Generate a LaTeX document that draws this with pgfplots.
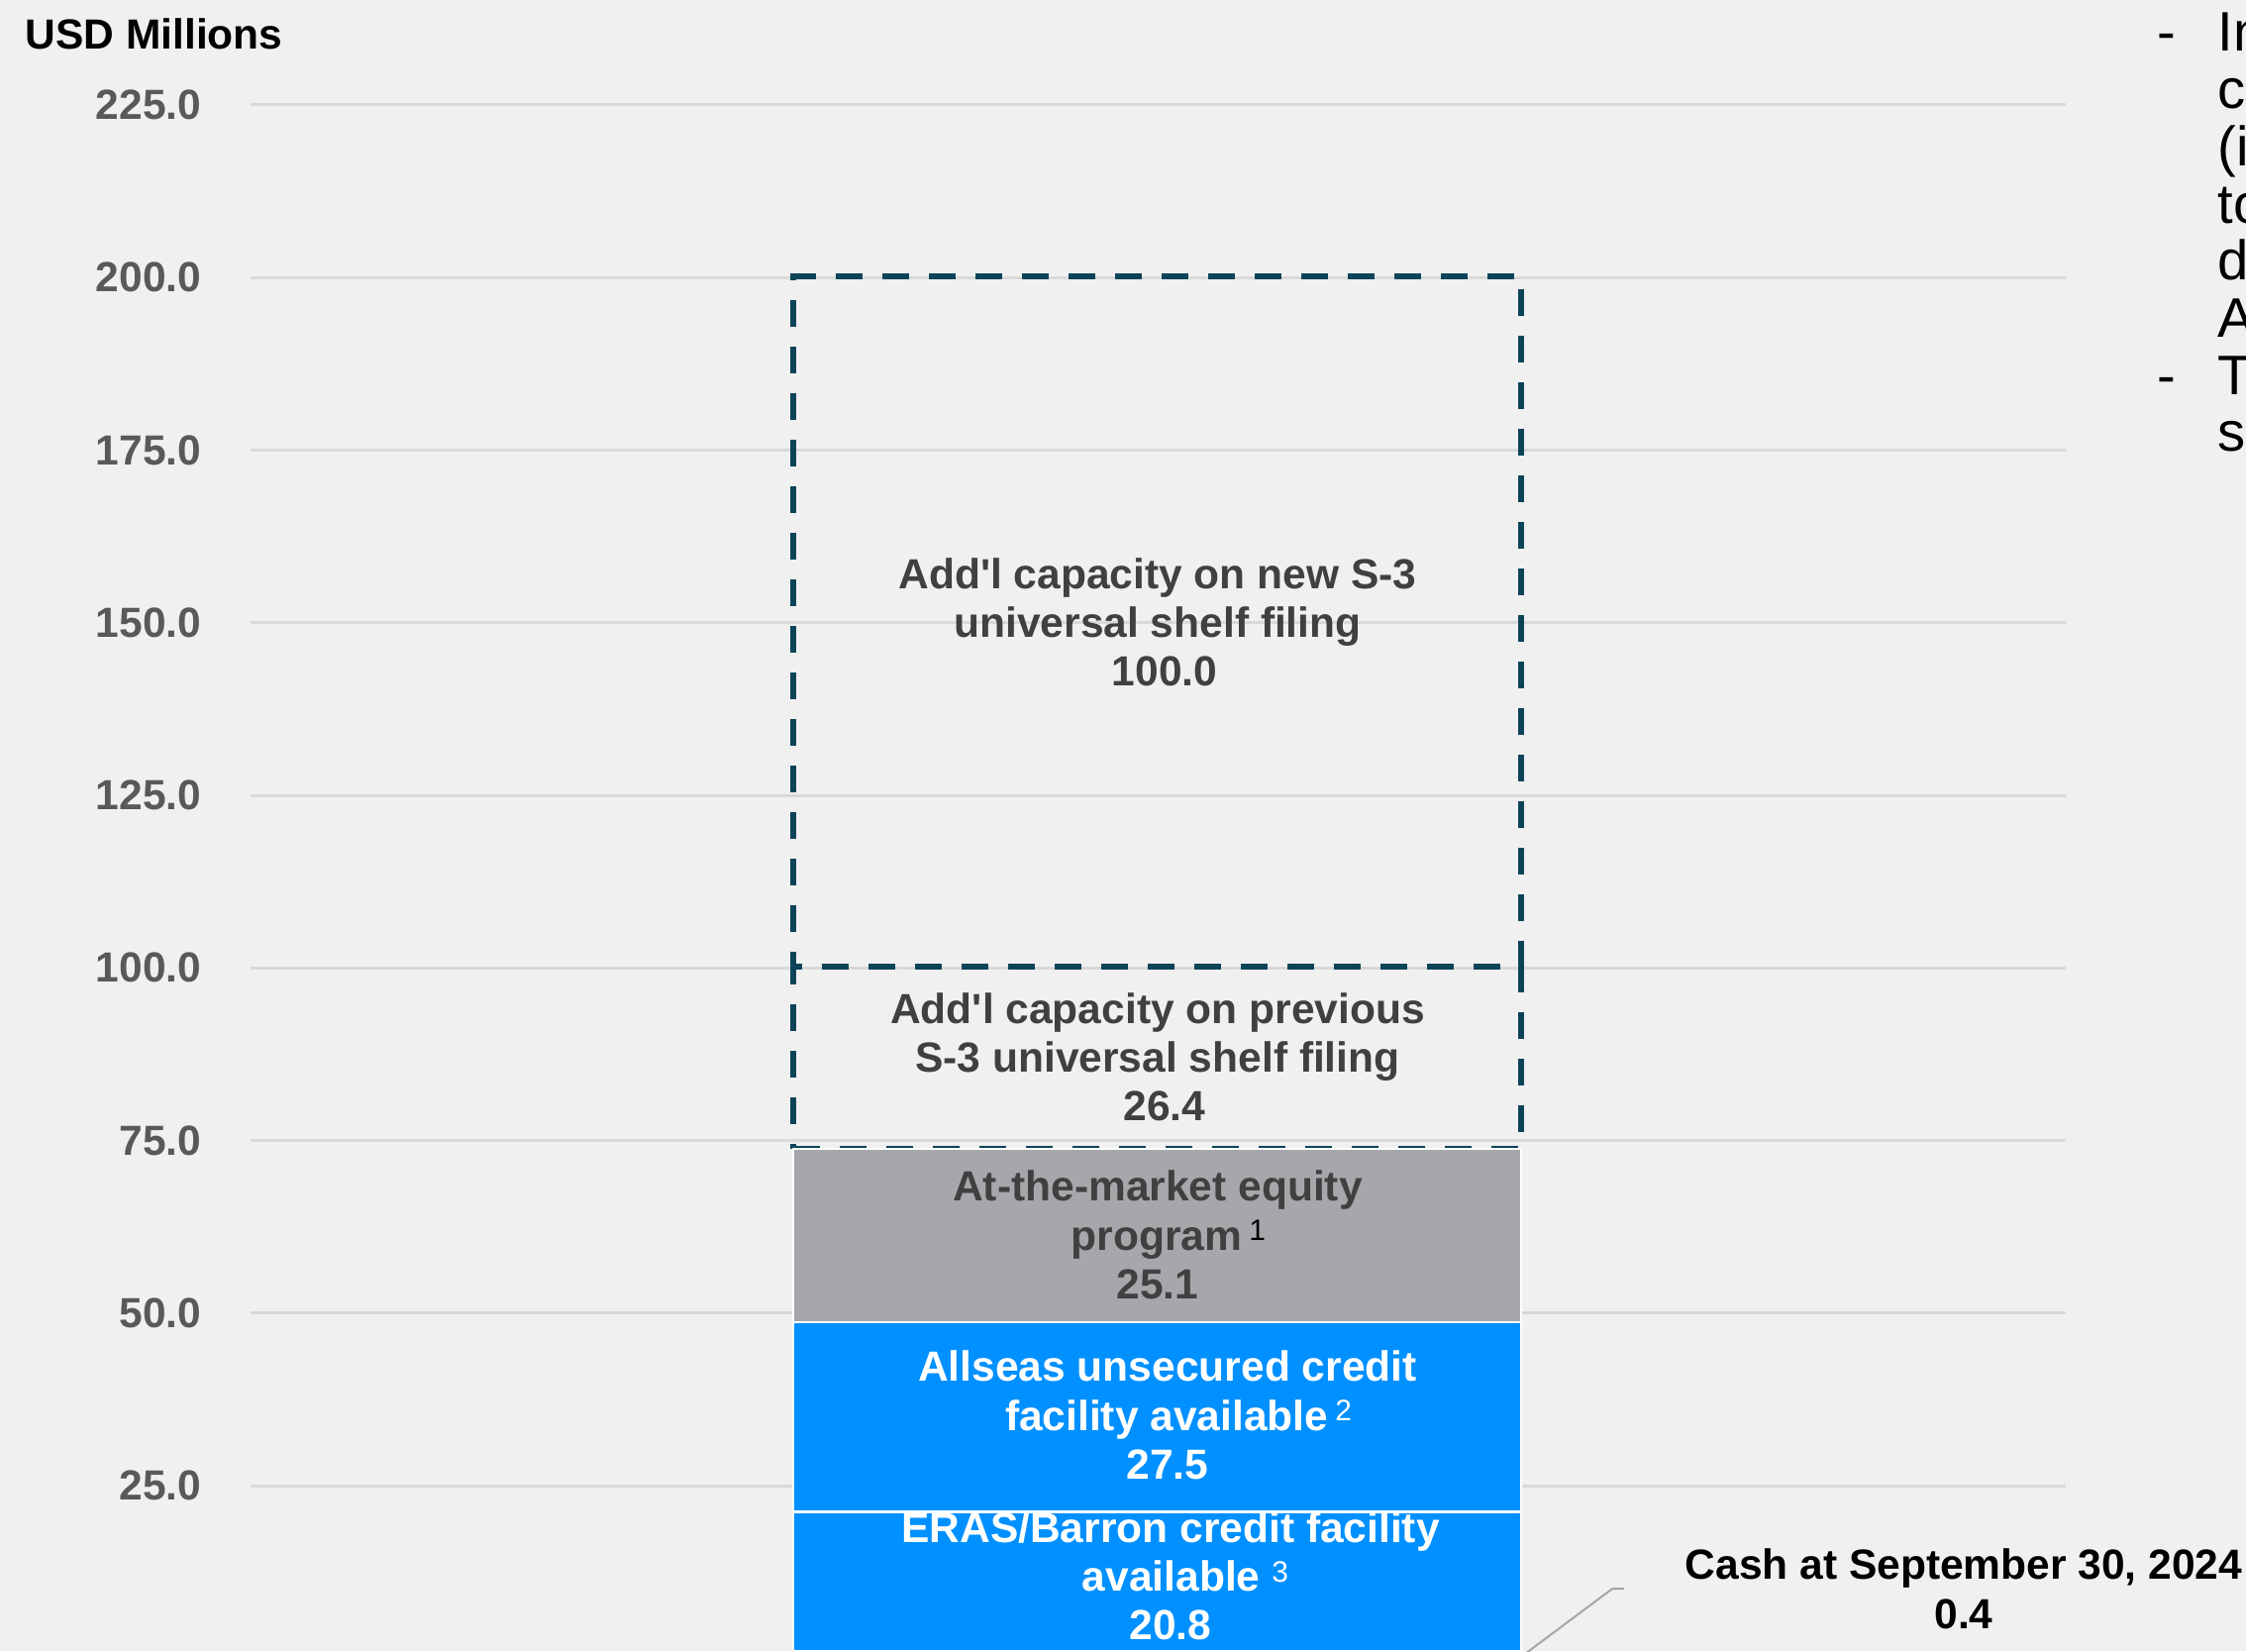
\documentclass[border=0pt]{standalone}
\usepackage{fontspec}
\setmainfont{Liberation Sans}
\usepackage{pgfplots}
\pgfplotsset{compat=1.18}
\definecolor{bg}{HTML}{F0F0F0}
\definecolor{gridc}{HTML}{D9D9D9}
\definecolor{barblue}{HTML}{0090FF}
\definecolor{bargrey}{HTML}{A6A7AB}
\definecolor{dteal}{HTML}{0B4459}
\definecolor{lbl}{HTML}{404040}
\definecolor{tickc}{HTML}{595959}
\definecolor{leader}{HTML}{A6A6A6}
\newcommand{\lblfont}{\fontsize{12.1pt}{14pt}\selectfont\bfseries}
\newcommand{\fnsup}[1]{\raisebox{2.7pt}{\fontsize{8.5pt}{9pt}\selectfont\mdseries #1}}
\begin{document}
\begin{tikzpicture}
\path[use as bounding box, fill=bg] (0,0) rectangle (226.8mm,166.7mm);
\clip (0,0) rectangle (226.8mm,166.7mm);
\begin{axis}[
  at={(25.3mm,0mm)}, anchor=south west,
  scale only axis, width=183.3mm, height=156.1mm,
  xmin=0, xmax=1833, ymin=1.04, ymax=225,
  clip=false,
  ybar stacked, bar width=73.5mm,
  axis line style={draw=none},
  xtick=\empty,
  ytick={25,50,75,100,125,150,175,200,225},
  tick style={draw=none},
  ymajorgrids, grid style={gridc, line width=0.3mm},
  yticklabel={\pgfmathprintnumber[fixed,fixed zerofill,precision=1,assume math mode=true]{\tick}},
  yticklabel style={font=\lblfont, text=tickc, inner sep=0pt, anchor=east, xshift=-4.9mm},
]
\addplot[fill=dteal, draw=white, line width=0.25mm] coordinates {(915.5,0.4)};
\addplot[fill=barblue, draw=white, line width=0.25mm] coordinates {(915.5,20.8)};
\addplot[fill=barblue, draw=white, line width=0.25mm] coordinates {(915.5,27.5)};
\addplot[fill=bargrey, draw=white, line width=0.25mm] coordinates {(915.5,25.1)};
\addplot[fill=none, draw=dteal, line width=0.65mm, dash pattern=on 2.7mm off 2mm] coordinates {(915.5,26.4)};
\addplot[fill=none, draw=dteal, line width=0.65mm, dash pattern=on 2.7mm off 2mm, dash phase=1.8mm] coordinates {(915.5,100)};

\coordinate (L100) at (axis cs:916,150.1);
\coordinate (L264) at (axis cs:916,87.1);
\coordinate (L251) at (axis cs:916,61.3);
\coordinate (L275) at (axis cs:926,35.2);
\coordinate (L208) at (axis cs:929,11.9);
\coordinate (LC) at (axis cs:1730,10.05);
\draw[leader, line width=0.2mm] (axis cs:1283,0.2) -- (axis cs:1375,10.05) -- (axis cs:1387,10.05);
\end{axis}

\node[align=center, text=lbl, font=\lblfont] at (L100) {Add\textquotesingle l capacity on new S-3\\universal shelf filing\\\hspace*{1.4mm}100.0};
\node[align=center, text=lbl, font=\lblfont] at (L264) {Add\textquotesingle l capacity on previous\\S-3 universal shelf filing\\\hspace*{1.4mm}26.4};
\node[align=center, text=lbl, font=\lblfont] at (L251) {At-the-market equity\\\hspace*{2.2mm}program\,{\color{black}\fnsup{1}}\\25.1};
\node[align=center, text=white, font=\lblfont] at (L275) {Allseas unsecured credit\\\hspace*{2.2mm}facility available\,\fnsup{2}\\27.5};
\node[align=center, text=white, font=\lblfont] at (L208) {ERAS/Barron credit facility\\\hspace*{3mm}available \fnsup{3}\\20.8};
\node[align=center, text=black, font=\lblfont] at (LC) {Cash at September 30, 2024\\0.4};

\node[anchor=base west, inner sep=0pt, font=\lblfont] at (2.5mm,161.7mm) {USD Millions};

\foreach \y/\t in {161.5/-,126.88/-}{
  \node[anchor=base west, inner sep=0pt, font=\fontsize{16pt}{17pt}\selectfont] at (217.8mm,\y mm) {\t};
}
\foreach \y/\t in {161.5/Increased,155.73/capacity,149.96/(including,144.19/total,138.42/during,132.65/ATM,126.88/The,121.11/shelf}{
  \node[anchor=base west, inner sep=0pt, font=\fontsize{16pt}{17pt}\selectfont] at (223.9mm,\y mm) {\t};
}
\end{tikzpicture}
\end{document}
